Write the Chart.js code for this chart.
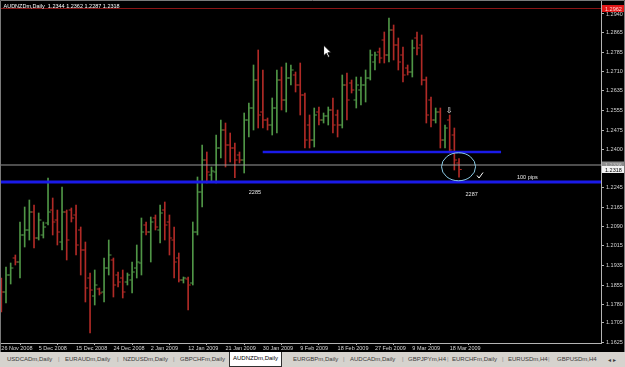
<!DOCTYPE html>
<html>
<head>
<meta charset="utf-8">
<script src="https://cdn.jsdelivr.net/npm/chart.js@4/dist/chart.umd.min.js"></script>
<style>
  html, body { margin: 0; padding: 0; background: #000; }
  #wrap { position: relative; width: 625px; height: 367px; overflow: hidden; background: #000; }
  #chart { position: absolute; left: 0; top: 0; }
  #tabs { position: absolute; left: 0; top: 352px; width: 625px; height: 15px; background: #d6d3ce;
          font: 6px "Liberation Sans", Arial, sans-serif; color: #3a3a3a; }
  #tabs span { position: absolute; top: 4px; white-space: nowrap; }
  #tabs .sep { color: #8a8a8a; }
  #tabs .active { top: 0; height: 11px; padding: 3px 0 0 0; background: #fff; color: #000;
                  border: 1px solid #303030; border-top: none; text-align: center; }
</style>
</head>
<body>
<div id="wrap">
  <canvas id="chart" width="625" height="352"></canvas>
  <div id="tabs"></div>
</div>
<script>
// AUDNZDm daily bars, 26 Nov 2008 -> 20 Mar 2009
const barOpen = [
  1.1868, 1.1828, 1.1896, 1.1964, 1.1948, 1.2056, 1.2076, 1.2148, 1.2044, 1.2056,
  1.2104, 1.2156, 1.2116, 1.2028, 1.2148, 1.2156, 1.2136, 1.2076, 1.1996, 1.1884,
  1.1812, 1.1840, 1.1828, 1.1924, 1.1956, 1.1896, 1.1884, 1.1868, 1.1876, 1.1924,
  1.1944, 1.2096, 1.2068, 1.2124, 1.2076, 1.2156, 1.2108, 1.2036, 1.1964, 1.1876,
  1.1880, 1.1864, 1.2068, 1.2228, 1.2356, 1.2296, 1.2308, 1.2404, 1.2476, 1.2416,
  1.2404, 1.2376, 1.2356, 1.2516, 1.2564, 1.2676, 1.2548, 1.2516, 1.2496, 1.2564,
  1.2676, 1.2596, 1.2684, 1.2696, 1.2656, 1.2616, 1.2496, 1.2436, 1.2548, 1.2516,
  1.2532, 1.2556, 1.2536, 1.2496, 1.2656, 1.2664, 1.2596, 1.2636, 1.2656, 1.2684,
  1.2748, 1.2788, 1.2836, 1.2776, 1.2876, 1.2816, 1.2776, 1.2724, 1.2708, 1.2844,
  1.2816, 1.2676, 1.2596, 1.2516, 1.2548, 1.2436, 1.2516, 1.2456, 1.2344
];
const barHigh = [
  1.1884, 1.1928, 1.1944, 1.1976, 1.2108, 1.2168, 1.2196, 1.2176, 1.2144, 1.2108,
  1.2284, 1.2204, 1.2156, 1.2248, 1.2156, 1.2164, 1.2176, 1.2088, 1.2028, 1.1904,
  1.1916, 1.1844, 1.1964, 1.2036, 1.1964, 1.1908, 1.1916, 1.1904, 1.1948, 1.2016,
  1.2124, 1.2108, 1.2128, 1.2136, 1.2176, 1.2188, 1.2136, 1.2088, 1.1984, 1.1888,
  1.1888, 1.2108, 1.2288, 1.2416, 1.2388, 1.2328, 1.2456, 1.2516, 1.2504, 1.2464,
  1.2424, 1.2388, 1.2544, 1.2584, 1.2736, 1.2796, 1.2716, 1.2524, 1.2604, 1.2716,
  1.2728, 1.2744, 1.2736, 1.2708, 1.2744, 1.2624, 1.2536, 1.2564, 1.2568, 1.2544,
  1.2568, 1.2604, 1.2556, 1.2696, 1.2704, 1.2676, 1.2688, 1.2688, 1.2716, 1.2796,
  1.2788, 1.2804, 1.2868, 1.2924, 1.2896, 1.2844, 1.2808, 1.2736, 1.2836, 1.2868,
  1.2856, 1.2688, 1.2608, 1.2564, 1.2564, 1.2496, 1.2536, 1.2484, 1.2362
];
const barLow = [
  1.1748, 1.1784, 1.1860, 1.1936, 1.1884, 1.2008, 1.2036, 1.2004, 1.2036, 1.2044,
  1.2096, 1.2056, 1.2016, 1.1996, 1.1956, 1.2108, 1.1976, 1.1896, 1.1788, 1.1664,
  1.1776, 1.1816, 1.1788, 1.1896, 1.1808, 1.1848, 1.1804, 1.1856, 1.1824, 1.1884,
  1.1896, 1.2056, 1.1948, 1.2076, 1.2024, 1.2036, 1.1976, 1.1884, 1.1868, 1.1864,
  1.1756, 1.1856, 1.2056, 1.2168, 1.2264, 1.2268, 1.2264, 1.2364, 1.2328, 1.2348,
  1.2285, 1.2344, 1.2304, 1.2448, 1.2476, 1.2484, 1.2484, 1.2476, 1.2456, 1.2464,
  1.2556, 1.2548, 1.2656, 1.2628, 1.2536, 1.2404, 1.2404, 1.2408, 1.2496, 1.2504,
  1.2496, 1.2464, 1.2448, 1.2484, 1.2516, 1.2624, 1.2564, 1.2576, 1.2588, 1.2676,
  1.2716, 1.2744, 1.2744, 1.2748, 1.2756, 1.2716, 1.2668, 1.2696, 1.2688, 1.2776,
  1.2656, 1.2504, 1.2488, 1.2504, 1.2404, 1.2404, 1.2384, 1.2316, 1.2287
];
const barClose = [
  1.1828, 1.1896, 1.1924, 1.1948, 1.2056, 1.2076, 1.2148, 1.2044, 1.2116, 1.2088,
  1.2148, 1.2108, 1.2068, 1.2148, 1.2036, 1.2124, 1.2016, 1.1996, 1.1844, 1.1836,
  1.1856, 1.1824, 1.1924, 1.1976, 1.1856, 1.1868, 1.1828, 1.1896, 1.1908, 1.1948,
  1.2068, 1.2068, 1.2108, 1.2088, 1.2144, 1.2096, 1.2044, 1.1948, 1.1876, 1.1884,
  1.1856, 1.2068, 1.2228, 1.2356, 1.2308, 1.2312, 1.2404, 1.2476, 1.2416, 1.2404,
  1.2356, 1.2356, 1.2516, 1.2564, 1.2676, 1.2536, 1.2516, 1.2496, 1.2564, 1.2676,
  1.2596, 1.2684, 1.2716, 1.2656, 1.2616, 1.2436, 1.2436, 1.2536, 1.2516, 1.2532,
  1.2556, 1.2496, 1.2496, 1.2656, 1.2596, 1.2636, 1.2656, 1.2656, 1.2684, 1.2776,
  1.2776, 1.2764, 1.2776, 1.2876, 1.2816, 1.2748, 1.2696, 1.2708, 1.2804, 1.2804,
  1.2676, 1.2536, 1.2516, 1.2548, 1.2436, 1.2484, 1.2396, 1.2356, 1.2318
];

// axis labels
const dateTickIndex = [0, 8, 16, 24, 32, 40, 48, 56, 64, 72, 80, 88, 96];
const dateLabels = [
  "26 Nov 2008", "5 Dec 2008", "15 Dec 2008", "24 Dec 2008", "2 Jan 2009", "12 Jan 2009",
  "21 Jan 2009", "30 Jan 2009", "9 Feb 2009", "18 Feb 2009", "27 Feb 2009", "9 Mar 2009", "18 Mar 2009"
];
const priceTicks = [
  1.1625, 1.1705, 1.1780, 1.1855, 1.1935, 1.2015, 1.2090, 1.2165, 1.2245,
  1.2400, 1.2475, 1.2555, 1.2635, 1.2710, 1.2785, 1.2865, 1.2940
];

// drawn objects: level price, first bar, last bar
const supportLevel = [1.2268, -1, 140];
const shortLevel = [1.2388, 55.97, 107.0];
const highLevel = [1.2962, -1, 140];
const askLevel = [1.2336, -1, 140];
const lastBid = 1.2318;

const symbolTitle = "AUDNZDm,Daily  1.2344 1.2362 1.2287 1.2318";
const tabNames = ["USDCADm,Daily", "EURAUDm,Daily", "NZDUSDm,Daily", "GBPCHFm,Daily", "AUDNZDm,Daily",
  "EURGBPm,Daily", "AUDCADm,Daily", "GBPJPYm,H4", "EURCHFm,Daily", "EURUSDm,H4", "GBPUSDm,H4"];
const tabLeft = [7, 65, 123, 180, 237, 293, 350, 408, 452, 508, 557];
const tabSeps = [58, 117, 173, 343, 402, 447, 502, 548];

const UP = "#4f9546";
const DOWN = "#b02a26";
const axisFont = { family: "Liberation Sans", size: 5.5 };

const barColors = barClose.map((c, i) => (c >= barOpen[i] ? UP : DOWN));
const idx = barClose.map((c, i) => i);

const levelLine = (lvl, color, width) => ({
  type: "line",
  data: [{ x: lvl[1], y: lvl[0] }, { x: lvl[2], y: lvl[0] }],
  borderColor: color,
  borderWidth: width,
  pointRadius: 0,
  pointHoverRadius: 0,
  order: 0,
});

// annotations, labels on the right axis, cursor, etc.
const overlay = {
  id: "overlay",
  afterDraw(chart) {
    const { ctx, chartArea: a, scales } = chart;
    const x = scales.x, y = scales.y;
    ctx.save();

    // window frame
    ctx.strokeStyle = "#7a7a7a";
    ctx.lineWidth = 1;
    ctx.beginPath();
    ctx.moveTo(0.5, 352); ctx.lineTo(0.5, 0.5); ctx.lineTo(624.5, 0.5); ctx.lineTo(624.5, 352);
    ctx.stroke();

    ctx.font = '5.5px "Liberation Sans"';
    ctx.textBaseline = "middle";
    ctx.textAlign = "left";
    ctx.fillStyle = "#ffffff";
    ctx.fillText(symbolTitle, a.left + 2.5, a.top + 5);

    // price boxes on the axis
    const box = (v, bg, fg) => {
      const py = y.getPixelForValue(v);
      ctx.fillStyle = bg;
      ctx.fillRect(a.right + 1, py - 3.5, 22, 7);
      ctx.fillStyle = fg;
      ctx.fillText(v.toFixed(4), a.right + 4, py + 0.5);
    };
    box(highLevel[0], "#e01818", "#ffd8d8");
    box(askLevel[0], "#8c8c8c", "#c8c8c8");
    box(lastBid, "#f2f2f2", "#000000");

    // text notes
    ctx.fillStyle = "#e8e8e8";
    ctx.textAlign = "center";
    ctx.fillText("2285", x.getPixelForValue(54.3), y.getPixelForValue(1.2228));
    ctx.fillText("2287", x.getPixelForValue(100.7), y.getPixelForValue(1.2220));
    ctx.textAlign = "left";
    ctx.fillText("100 pips", x.getPixelForValue(110.4), y.getPixelForValue(1.2288));

    // circle round the last bars
    ctx.strokeStyle = "#8ccbe6";
    ctx.beginPath();
    ctx.ellipse(x.getPixelForValue(97.9), y.getPixelForValue(1.2329), 17, 14, 0, 0, Math.PI * 2);
    ctx.stroke();

    // tick mark
    const cx = x.getPixelForValue(102.5), cy = y.getPixelForValue(1.2294);
    ctx.strokeStyle = "#ffffff";
    ctx.beginPath();
    ctx.moveTo(cx - 3, cy); ctx.lineTo(cx - 1, cy + 2.5); ctx.lineTo(cx + 3, cy - 3);
    ctx.stroke();

    // down arrow
    ctx.font = '8px "DejaVu Sans"';
    ctx.textAlign = "center";
    ctx.fillStyle = "#ffffff";
    ctx.fillText("\u21E9", x.getPixelForValue(95.9), y.getPixelForValue(1.2552));

    // mouse pointer
    const mx = x.getPixelForValue(69), my = y.getPixelForValue(1.2816);
    ctx.beginPath();
    ctx.moveTo(mx, my);
    ctx.lineTo(mx, my + 11);
    ctx.lineTo(mx + 2.6, my + 8.4);
    ctx.lineTo(mx + 4.6, my + 12.4);
    ctx.lineTo(mx + 6.2, my + 11.6);
    ctx.lineTo(mx + 4.3, my + 7.8);
    ctx.lineTo(mx + 7.8, my + 7.8);
    ctx.closePath();
    ctx.fillStyle = "#ffffff";
    ctx.fill();
    ctx.strokeStyle = "#000000";
    ctx.stroke();

    ctx.restore();
  },
};

new Chart(document.getElementById("chart"), {
  type: "scatter",
  data: {
    datasets: [
      levelLine(supportLevel, "#1a1ae8", 3.2),
      levelLine(shortLevel, "#1a1ae8", 2.6),
      levelLine(highLevel, "#8a1414", 1),
      levelLine(askLevel, "#9a9a9a", 1),
      {
        type: "bar",
        data: idx.map((i) => ({ x: i, y: [barLow[i], barHigh[i]] })),
        backgroundColor: barColors,
        barThickness: 1,
        borderWidth: 0,
        grouped: false,
        order: 1,
      },
      {
        type: "scatter",
        data: idx.map((i) => ({ x: i - 0.33, y: barOpen[i] })),
        pointStyle: "line",
        pointRadius: 1.2,
        pointHoverRadius: 0,
        pointBorderWidth: 1,
        pointBorderColor: barColors,
        order: 1,
      },
      {
        type: "scatter",
        data: idx.map((i) => ({ x: i + 0.33, y: barClose[i] })),
        pointStyle: "line",
        pointRadius: 1.2,
        pointHoverRadius: 0,
        pointBorderWidth: 1,
        pointBorderColor: barColors,
        order: 1,
      },
    ],
  },
  options: {
    responsive: false,
    animation: false,
    events: [],
    devicePixelRatio: 1,
    layout: { autoPadding: false, padding: { left: 1, top: 1, right: 0, bottom: 0 } },
    plugins: { legend: { display: false }, tooltip: { enabled: false } },
    scales: {
      x: {
        type: "linear",
        position: "bottom",
        min: -0.07,
        max: 128.4,
        offset: false,
        afterBuildTicks: (s) => {
          s.ticks = dateTickIndex.map((v) => ({ value: v }));
        },
        afterFit: (s) => {
          s.height = 9;
          s.paddingLeft = 0;
          s.paddingRight = 0;
        },
        grid: { drawOnChartArea: false, tickLength: 2, color: "#b4b4b4" },
        border: { color: "#b4b4b4" },
        ticks: {
          align: "start",
          autoSkip: false,
          maxRotation: 0,
          padding: 0,
          color: "#d4d4d4",
          font: axisFont,
          callback: (v, i) => dateLabels[i],
        },
      },
      y: {
        position: "right",
        min: 1.1624,
        max: 1.2992,
        afterBuildTicks: (s) => {
          s.ticks = priceTicks.map((v) => ({ value: v }));
        },
        afterFit: (s) => {
          s.width = 24;
          s.paddingTop = 0;
          s.paddingBottom = 0;
        },
        grid: { drawOnChartArea: false, tickLength: 3, color: "#b4b4b4" },
        border: { color: "#b4b4b4" },
        ticks: {
          padding: 2,
          color: "#d4d4d4",
          font: axisFont,
          callback: (v) => v.toFixed(4),
        },
      },
    },
  },
  plugins: [overlay],
});

// terminal tabs under the chart
const tabs = document.getElementById("tabs");
tabNames.forEach((name, i) => {
  const el = document.createElement("span");
  el.textContent = name;
  el.style.left = tabLeft[i] + "px";
  if (name === "AUDNZDm,Daily") {
    el.className = "active";
    el.style.left = "229px";
    el.style.width = "51px";
  }
  tabs.appendChild(el);
});
tabSeps.forEach((p) => {
  const el = document.createElement("span");
  el.className = "sep";
  el.textContent = "|";
  el.style.left = p + "px";
  tabs.appendChild(el);
});
const arrows = document.createElement("span");
arrows.textContent = "\u25C2  \u25B8";
arrows.style.left = "608px";
tabs.appendChild(arrows);
</script>
</body>
</html>
